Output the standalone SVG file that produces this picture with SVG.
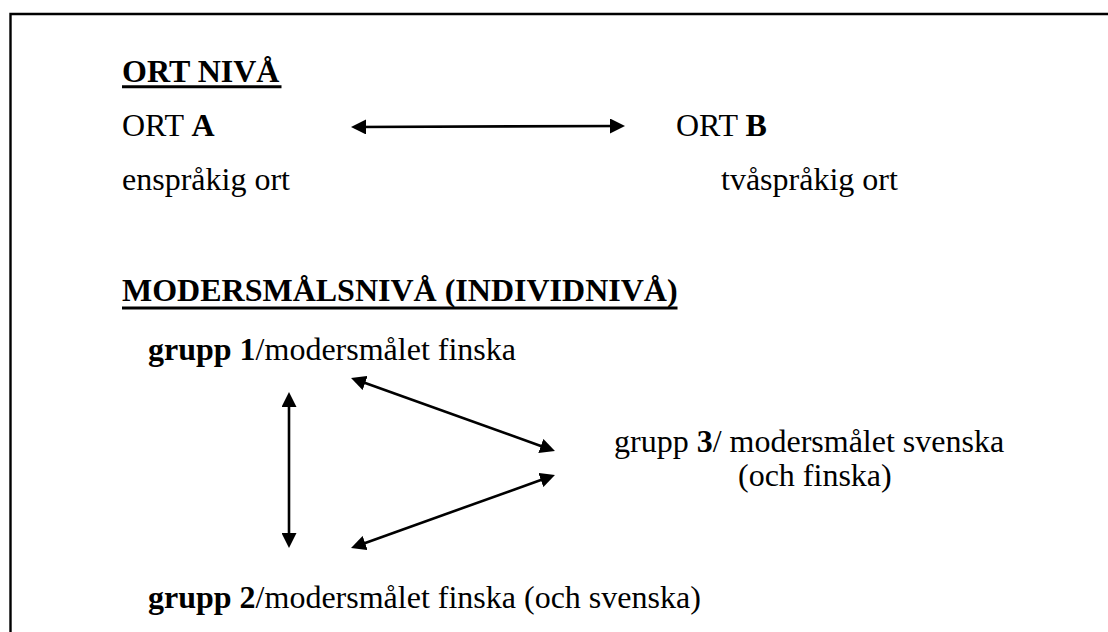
<svg xmlns="http://www.w3.org/2000/svg" width="1108" height="632" viewBox="0 0 1108 632">
<style>
  text { font-family: 'Liberation Serif', 'DejaVu Serif', serif; font-size: 32px; fill: #000; }
  .b { font-weight: bold; }
  .conn { stroke: #000; stroke-width: 2.6; fill: none; marker-start: url(#ah); marker-end: url(#ah); }
  .ul { stroke: #000; stroke-width: 3; }
</style>
<defs>
  <marker id="ah" markerUnits="userSpaceOnUse" markerWidth="15" markerHeight="15" viewBox="0 0 15 15" refX="11" refY="7.5" orient="auto-start-reverse">
    <path d="M0,0 L15,7.5 L0,15 z" fill="#000"/>
  </marker>
</defs>
<rect width="1108" height="632" fill="#fff"/>
<path d="M10.5,632 V14 H1108" stroke="#000" stroke-width="2.4" fill="none"/>

<g id="heading-ort">
  <text x="122" y="82" class="b" font-family="Liberation Serif, serif">ORT NIVÅ</text>
  <line class="ul" x1="122" y1="86.7" x2="281.5" y2="86.7"/>
</g>
<g id="ort-a">
  <text x="122" y="136" font-family="Liberation Serif, serif">ORT <tspan class="b">A</tspan></text>
  <text x="122" y="190" font-family="Liberation Serif, serif">enspråkig ort</text>
</g>
<g id="ort-b">
  <text x="676" y="136" font-family="Liberation Serif, serif">ORT <tspan class="b">B</tspan></text>
  <text x="721" y="190" font-family="Liberation Serif, serif">tvåspråkig ort</text>
</g>
<g id="heading-modersmal">
  <text x="122" y="301" class="b" font-family="Liberation Serif, serif">MODERSMÅLSNIVÅ (INDIVIDNIVÅ)</text>
  <line class="ul" x1="122" y1="308" x2="677.5" y2="308"/>
</g>
<g id="grupp1">
  <text x="148" y="360" font-family="Liberation Serif, serif"><tspan class="b">grupp 1</tspan>/modersmålet finska</text>
</g>
<g id="grupp3">
  <text x="614" y="452" font-family="Liberation Serif, serif">grupp <tspan class="b">3</tspan>/ modersmålet svenska</text>
  <text x="738" y="486" font-family="Liberation Serif, serif">(och finska)</text>
</g>
<g id="grupp2">
  <text x="148" y="608" font-family="Liberation Serif, serif"><tspan class="b">grupp 2</tspan>/modersmålet finska (och svenska)</text>
</g>

<g id="connectors">
  <line class="conn" x1="355" y1="127" x2="621" y2="126"/>
  <line class="conn" x1="289" y1="396" x2="289" y2="544"/>
  <line class="conn" x1="354.8" y1="379.3" x2="551.2" y2="449.7"/>
  <line class="conn" x1="551.2" y1="476.3" x2="354.8" y2="546.7"/>
</g>
</svg>
